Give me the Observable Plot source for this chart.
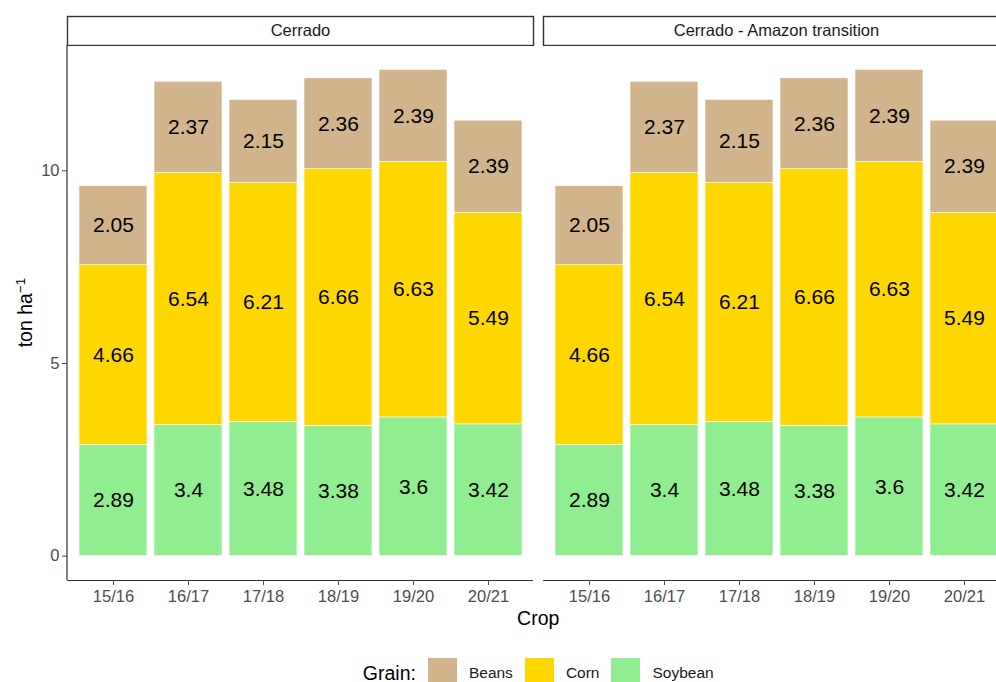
<!DOCTYPE html>
<html>
<head>
<meta charset="utf-8">
<script src="https://cdn.jsdelivr.net/npm/d3@7"></script>
<script src="https://cdn.jsdelivr.net/npm/@observablehq/plot@0.6"></script>
<style>
  html, body { margin: 0; padding: 0; background: #fff; overflow: hidden; }
  #fig { position: relative; width: 1017px; height: 682px; font-family: "Liberation Sans", Arial, sans-serif; }
  #strips { position: absolute; left: 0; top: 15px; }
  #main { position: absolute; left: 0; top: 45px; }
  #legend { position: absolute; top: 658px; display: flex; align-items: center; justify-content: center; }
  #legend .title { font-size: 19.5px; line-height: 18px; color: #000; margin-right: 12px; }
  #legend .key { width: 29px; height: 29px; margin-right: 12px; }
  #legend .lab { font-size: 15.5px; line-height: 16px; color: #1a1a1a; margin-right: 12px; }
  #legend .lab:last-child { margin-right: 0; }
</style>
</head>
<body>
<div id="fig">
  <div id="strips"></div>
  <div id="main"></div>
  <div id="legend"></div>
</div>
<script>
// Regions (facets) and crop seasons
const regions = ["Cerrado", "Cerrado - Amazon transition"];
const crops = ["15/16", "16/17", "17/18", "18/19", "19/20", "20/21"];

// Grain categories and their fills
const grains = ["Beans", "Corn", "Soybean"];
const grainColors = ["#D2B48C", "#FFD700", "#90EE90"];
const stackOrder = ["Soybean", "Corn", "Beans"];

// Yields (ton/ha) per crop season — Cerrado
const cerradoSoybean = [2.89, 3.4, 3.48, 3.38, 3.6, 3.42];
const cerradoCorn    = [4.66, 6.54, 6.21, 6.66, 6.63, 5.49];
const cerradoBeans   = [2.05, 2.37, 2.15, 2.36, 2.39, 2.39];

// Yields (ton/ha) per crop season — Cerrado - Amazon transition
const transitionSoybean = [2.89, 3.4, 3.48, 3.38, 3.6, 3.42];
const transitionCorn    = [4.66, 6.54, 6.21, 6.66, 6.63, 5.49];
const transitionBeans   = [2.05, 2.37, 2.15, 2.36, 2.39, 2.39];

const yTicks = [0, 5, 10];

// Long table built from the arrays above
const series = {
  "Cerrado": {Soybean: cerradoSoybean, Corn: cerradoCorn, Beans: cerradoBeans},
  "Cerrado - Amazon transition": {Soybean: transitionSoybean, Corn: transitionCorn, Beans: transitionBeans}
};
const rows = [];
for (const region of regions) {
  crops.forEach((crop, i) => {
    for (const grain of stackOrder) {
      rows.push({region, crop, grain, value: series[region][grain][i]});
    }
  });
}

// y extent with 5% padding on both sides
const totals = d3.rollups(rows, v => d3.sum(v, d => d.value), d => d.region, d => d.crop)
  .flatMap(([, g]) => g.map(([, s]) => s));
const yMax = d3.max(totals);
const pad = yMax * 0.05;
const yLo = -pad, yHi = yMax + pad;

const W = 1017, ML = 67, MR = W - 1009.5;
const font = '"Liberation Sans", Arial, sans-serif';
const fxOpts = {domain: regions, paddingInner: 0.022, paddingOuter: 0, axis: null};

// Facet strips
const strip = Plot.plot({
  width: W, height: 31,
  marginLeft: ML, marginRight: MR, marginTop: 1, marginBottom: 1,
  fx: fxOpts,
  style: {fontFamily: font, background: "transparent"},
  marks: [
    Plot.frame({stroke: "#333", strokeWidth: 1.4, fill: "white"}),
    Plot.text(regions, {fx: d => d, text: d => d, frameAnchor: "middle", fontSize: 16.5, fill: "#1a1a1a"})
  ]
});
document.getElementById("strips").appendChild(strip);

// Stacked bars
const main = Plot.plot({
  width: W, height: 590,
  marginLeft: ML, marginRight: MR, marginTop: 0, marginBottom: 55,
  fx: fxOpts,
  x: {domain: crops, paddingInner: 0.1, paddingOuter: 0.15},
  y: {domain: [yLo, yHi]},
  color: {domain: grains, range: grainColors},
  style: {fontFamily: font, background: "transparent", overflow: "visible"},
  marks: [
    Plot.barY(rows, Plot.stackY({
      fx: "region", x: "crop", y: "value", z: "grain", fill: "grain",
      order: stackOrder, stroke: "white", strokeWidth: 0.6
    })),
    Plot.text(rows, Plot.stackY({
      fx: "region", x: "crop", y: "value", z: "grain",
      order: stackOrder, text: d => String(d.value), fontSize: 21, fill: "#000"
    })),
    Plot.ruleY([yLo], {stroke: "#333", strokeWidth: 1.2}),
    Plot.axisY(yTicks, {tickSize: 5, tickPadding: 3, fontSize: 16.5, color: "#4d4d4d", label: null}),
    Plot.axisX({tickSize: 5, tickPadding: 5, fontSize: 16.5, color: "#4d4d4d", label: null})
  ]
});
document.getElementById("main").appendChild(main);

// Left axis line, axis titles
const svg = d3.select(main);
const yR = main.scale("y").range;
const fxR = main.scale("fx").range;
const xLeft = fxR[0];
svg.append("line")
  .attr("x1", xLeft).attr("x2", xLeft)
  .attr("y1", yR[0]).attr("y2", yR[1])
  .attr("stroke", "#333").attr("stroke-width", 1.2);

const yMid = (yR[0] + yR[1]) / 2;
const yt = svg.append("text")
  .attr("transform", `translate(${xLeft - 35},${yMid}) rotate(-90)`)
  .attr("text-anchor", "middle")
  .attr("font-size", 19.5).attr("fill", "#000");
yt.append("tspan").text("ton ha");
yt.append("tspan").attr("dy", "-0.55em").attr("font-size", 13.5).text("\u22121");

svg.append("text")
  .attr("x", (fxR[0] + fxR[1]) / 2)
  .attr("y", yR[0] + 45)
  .attr("text-anchor", "middle")
  .attr("font-size", 19.5).attr("fill", "#000")
  .text("Crop");

// Legend
const legend = d3.select("#legend")
  .style("left", `${xLeft}px`)
  .style("width", `${fxR[1] - fxR[0]}px`);
legend.append("span").attr("class", "title").text("Grain:");
grains.forEach((g, i) => {
  legend.append("span").attr("class", "key").style("background", grainColors[i]);
  legend.append("span").attr("class", "lab").text(g);
});
</script>
</body>
</html>
